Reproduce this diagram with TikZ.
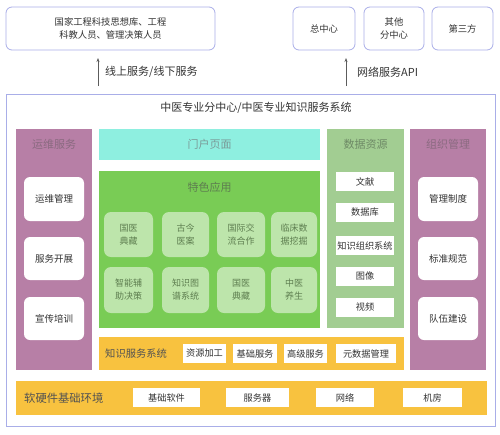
\documentclass[tikz,border=0pt]{standalone}
\usepackage{fontspec}
\setmainfont{Noto Sans CJK SC}
\usetikzlibrary{arrows.meta}
\definecolor{frameblue}{HTML}{A9AEE8}
\definecolor{mauve}{HTML}{B77FA6}
\definecolor{mauvetxt}{HTML}{8A6A80}
\definecolor{cyanp}{HTML}{8EEFE0}
\definecolor{cyantxt}{HTML}{7A9A98}
\definecolor{greenb}{HTML}{79CC55}
\definecolor{greenl}{HTML}{BDE5AB}
\definecolor{greentxt}{HTML}{5E7E50}
\definecolor{sage}{HTML}{A2CD92}
\definecolor{sagetxt}{HTML}{6E8A66}
\definecolor{orangeb}{HTML}{F8C23F}
\definecolor{txt}{HTML}{333333}
\tikzset{
  box/.style={draw=frameblue, line width=0.8pt, rounded corners=6pt, fill=white, inner sep=0pt, text=txt, font=\fontsize{9.3}{13}\selectfont, align=center},
  panel/.style={inner sep=0pt, draw=none},
  wbox/.style={fill=white, rounded corners=6pt, inner sep=0pt, text=txt, font=\fontsize{9.5}{12}\selectfont},
  wrect/.style={fill=white, inner sep=0pt, text=txt, font=\fontsize{9.2}{12}\selectfont},
  gbox/.style={fill=greenl, rounded corners=7pt, inner sep=0pt, text=greentxt, align=center, font=\fontsize{9}{13}\selectfont},
  ptitle/.style={inner sep=0pt, font=\fontsize{11}{13}\selectfont},
  arr/.style={-{Stealth[length=4pt,width=3pt]}, line width=0.6pt, draw=txt!80}
}
\newcommand{\rbox}[6]{\node[#1, minimum width=#4-#2, minimum height=#5-#3] (#6) at ({(#2+#4)/2},{(#3+#5)/2}) {};}
\begin{document}
\begin{tikzpicture}[x=1pt,y=-1pt]
\useasboundingbox (0,0) rectangle (500,434);
% top boxes
\node[box, minimum width=209, minimum height=43] (users) at (110.5,28.5) {国家工程科技思想库、工程\\科教人员、管理决策人员};
\node[box, minimum width=62, minimum height=43] (zong) at (324,28.5) {总中心};
\node[box, minimum width=60, minimum height=43] (qita) at (394,28.5) {其他\\分中心};
\node[box, minimum width=61, minimum height=43] (disan) at (462.5,28.5) {第三方};
% main frame
\node[draw=frameblue, line width=0.8pt, fill=white, inner sep=0pt, minimum width=489, minimum height=332] (main) at (250.5,260) {};
\node[ptitle, text=txt] (maintitle) at (256,108) {中医专业分中心/中医专业知识服务系统};
% arrows
\coordinate (a1s) at (98,86);
\coordinate (a1e) at (98,58);
\draw[arr] (a1s) -- (a1e);
\node[ptitle, text=txt, anchor=west] (l1) at (105,72) {线上服务/线下服务};
\coordinate (a2s) at (346,86);
\coordinate (a2e) at (346,58);
\draw[arr] (a2s) -- (a2e);
\node[ptitle, text=txt, anchor=west] (l2) at (357,72) {网络服务API};
% left column
\fill[mauve] (16,129) rectangle (92,370);
\node[ptitle, text=mauvetxt] (ywfw) at (54,144) {运维服务};
\node[wbox, minimum width=60, minimum height=44] (ywgl) at (54,199) {运维管理};
\node[wbox, minimum width=60, minimum height=43] (fwkz) at (54,258.5) {服务开展};
\node[wbox, minimum width=60, minimum height=43] (xcpx) at (54,318.5) {宣传培训};
% right column
\fill[mauve] (410,129) rectangle (486,370);
\node[ptitle, text=mauvetxt] (zzgl) at (448,144) {组织管理};
\node[wbox, minimum width=60, minimum height=44] (glzd) at (448,199) {管理制度};
\node[wbox, minimum width=60, minimum height=43] (bzgf) at (448,258.5) {标准规范};
\node[wbox, minimum width=60, minimum height=43] (dwjs) at (448,318.5) {队伍建设};
% portal
\node[fill=cyanp, inner sep=0pt, minimum width=221, minimum height=31, text=cyantxt, font=\fontsize{11}{13}\selectfont] (portal) at (209.5,144.5) {门户页面};
% green
\fill[greenb] (99,171) rectangle (320,328);
\node[ptitle, text=greentxt] (tsyy) at (209.5,187) {特色应用};
\node[gbox, minimum width=49, minimum height=45] (g1) at (128.5,234.5) {国医\\典藏};
\node[gbox, minimum width=47, minimum height=45] (g2) at (185.5,234.5) {古今\\医案};
\node[gbox, minimum width=48, minimum height=45] (g3) at (241,234.5) {国际交\\流合作};
\node[gbox, minimum width=46, minimum height=45] (g4) at (294,234.5) {临床数\\据挖掘};
\node[gbox, minimum width=49, minimum height=46] (g5) at (128.5,290) {智能辅\\助决策};
\node[gbox, minimum width=47, minimum height=46] (g6) at (185.5,290) {知识图\\谱系统};
\node[gbox, minimum width=48, minimum height=46] (g7) at (241,290) {国医\\典藏};
\node[gbox, minimum width=46, minimum height=46] (g8) at (294,290) {中医\\养生};
% data resources
\fill[sage] (327,129) rectangle (404,328);
\node[ptitle, text=sagetxt] (sjzy) at (365.5,144) {数据资源};
\node[wrect, minimum width=58, minimum height=19] (wx) at (365,181.5) {文献};
\node[wrect, minimum width=58, minimum height=19] (sjk) at (365,212.5) {数据库};
\node[wrect, minimum width=58, minimum height=19] (zszz) at (365,245.5) {知识组织系统};
\node[wrect, minimum width=58, minimum height=19] (tx) at (365,276.5) {图像};
\node[wrect, minimum width=58, minimum height=19] (sp) at (365,307.5) {视频};
% knowledge service bar
\fill[orangeb] (99,337) rectangle (404,370);
\node[inner sep=0pt, text=txt!85, font=\fontsize{10.3}{12}\selectfont, anchor=west] (zsfw) at (105,353.5) {知识服务系统};
\node[wrect, minimum width=43, minimum height=19] (zyjg) at (204.5,353.5) {资源加工};
\node[wrect, minimum width=44, minimum height=19] (jcfw) at (255,353.5) {基础服务};
\node[wrect, minimum width=43, minimum height=19] (gjfw) at (305.5,353.5) {高级服务};
\node[wrect, minimum width=60, minimum height=19] (ysj) at (366,353.5) {元数据管理};
% bottom bar
\fill[orangeb] (16,381) rectangle (487,415);
\node[inner sep=0pt, text=txt!85, font=\fontsize{11.3}{13}\selectfont, anchor=west] (rjyj) at (24,398) {软硬件基础环境};
\node[wrect, minimum width=67, minimum height=19] (jcrj) at (166.5,397.5) {基础软件};
\node[wrect, minimum width=63, minimum height=19] (fwq) at (257.5,397.5) {服务器};
\node[wrect, minimum width=58, minimum height=19] (wl) at (345,397.5) {网络};
\node[wrect, minimum width=59, minimum height=19] (jf) at (432.5,397.5) {机房};
\end{tikzpicture}
\end{document}
